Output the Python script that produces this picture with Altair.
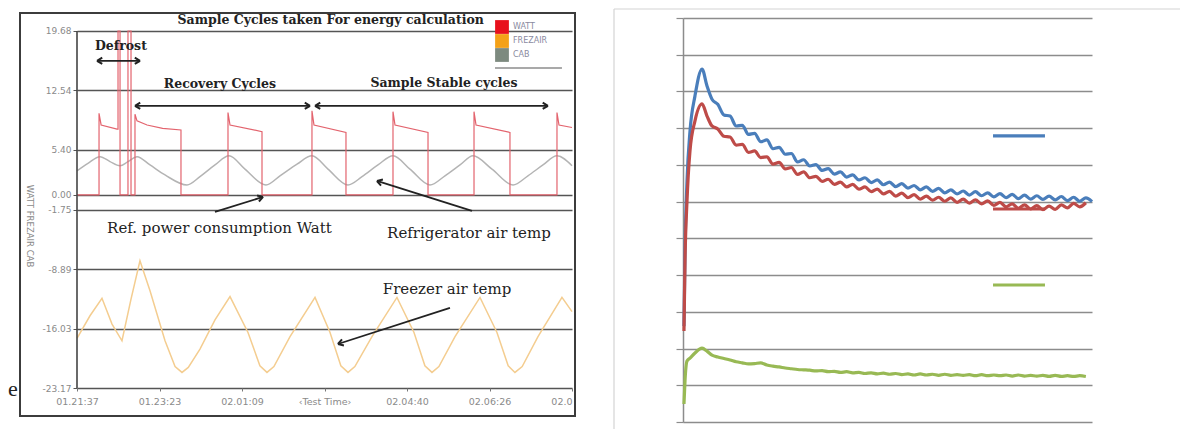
import altair as alt
import pandas as pd

# ================= LEFT PANEL DATA =================
x_ticks = [0, 106, 212, 318, 424, 530, 636]
x_tick_labels = ["01.21:37", "01.23:23", "02.01:09", "\u2039Test Time\u203a", "02.04:40", "02.06:26", "02.0"]
y_ticks = [19.68, 12.54, 5.40, 0.00, -1.75, -8.89, -16.03, -23.17]

series_names = ["WATT", "FREZAIR", "CAB"]

watt_t = [0, 28.3, 28.3, 31.0, 51.4, 52.7, 52.7, 55.3, 55.3, 65.5, 65.5, 69.4, 69.4, 74.5, 74.5, 77.1,
          90.0, 110.0, 133.6, 133.6, 194.0, 194.0, 196.6, 237.7, 237.7, 301.9, 301.9, 304.5, 345.6,
          345.6, 406.0, 406.0, 408.6, 451.0, 451.0, 510.1, 510.1, 512.7, 556.3, 556.3, 616.7, 616.7,
          619.3, 636.0]
watt_v = [0, 0, 9.8, 8.4, 7.9, 7.9, 19.68, 19.68, 0, 0, 19.68, 19.68, 0, 0, 9.7, 8.9,
          8.4, 8.0, 7.8, 0, 0, 9.9, 8.4, 7.6, 0, 0, 10.1, 8.4, 7.5,
          0, 0, 10.0, 8.4, 7.5, 0, 0, 10.0, 8.4, 7.5, 0, 0, 9.9,
          8.4, 8.1]

cab_t = [0, 14.1, 29.6, 42.4, 55.2, 65.5, 77.1, 93.8, 113.1, 141.3, 158.0, 177.3, 195.3, 215.8,
         242.8, 260.8, 282.7, 301.9, 322.5, 348.2, 366.2, 386.7, 406.0, 427.8, 453.5, 472.8, 492.1,
         508.8, 533.2, 560.2, 579.4, 598.7, 616.7, 636.0]
cab_v = [2.9, 3.8, 4.6, 4.0, 3.5, 4.0, 4.6, 3.6, 2.4, 1.2, 2.2, 3.6, 4.7, 3.1,
         1.2, 2.3, 3.7, 4.7, 3.1, 1.2, 2.2, 3.6, 4.7, 3.1, 1.2, 2.3, 3.6,
         4.7, 3.1, 1.2, 2.3, 3.6, 4.7, 3.5]

frez_t = [0, 16.7, 32.1, 45.0, 57.8, 69.4, 80.9, 93.8, 113.1, 126.0, 134.9, 143.0, 158.0, 177.3,
          196.6, 219.7, 235.0, 244.1, 253.0, 273.7, 305.8, 325.1, 339.0, 348.2, 357.0, 379.0, 411.1,
          433.0, 447.0, 456.1, 465.0, 485.7, 517.8, 539.6, 554.0, 562.7, 572.0, 592.3, 623.1, 636.0]
frez_v = [-17.2, -14.5, -12.4, -15.5, -17.5, -12.5, -7.9, -11.5, -17.5, -20.6, -21.3, -20.7, -18.5, -15.0,
          -12.2, -16.5, -20.5, -21.3, -20.6, -17.0, -12.3, -16.5, -20.5, -21.3, -20.6, -17.0, -12.3,
          -16.5, -20.5, -21.3, -20.6, -17.0, -12.3, -16.5, -20.5, -21.3, -20.6, -17.0, -12.3, -14.0]

# ================= RIGHT PANEL DATA =================
r_x = [0.24, 0.49, 0.98, 1.71, 2.93, 4.65, 5.87, 7.09,
       8.5, 10, 11.5, 13, 14.5, 16, 17.5, 19, 20.5, 22, 23.5, 25, 26.5, 28, 29.5, 31, 32.5, 34,
       35.5, 37, 38.5, 40, 41.5, 43, 44.5, 46, 47.5, 49, 50.5, 52, 53.5, 55, 56.5, 58, 59.5, 61,
       62.5, 64, 65.5, 67, 68.5, 70, 71.5, 73, 74.5, 76, 77.5, 79, 80.5, 82, 83.5, 85, 86.5, 88,
       89.5, 91, 92.5, 94, 95.5, 97, 98.5, 100]
blue_y = [2.61, 4.66, 6.56, 7.92, 8.88, 9.61, 9.15, 8.79,
          8.65, 8.36, 8.33, 8.06, 8.08, 7.83, 7.86, 7.63, 7.68, 7.44, 7.48, 7.29, 7.31, 7.08, 7.14,
          6.97, 7.01, 6.85, 6.90, 6.75, 6.81, 6.67, 6.73, 6.59, 6.65, 6.52, 6.59, 6.46, 6.53, 6.41,
          6.49, 6.37, 6.44, 6.32, 6.40, 6.28, 6.36, 6.24, 6.32, 6.21, 6.29, 6.18, 6.27, 6.16, 6.24,
          6.13, 6.22, 6.11, 6.20, 6.08, 6.18, 6.07, 6.16, 6.06, 6.15, 6.05, 6.14, 6.03, 6.12, 6.01,
          6.10, 6.00]
red_y = [2.48, 4.38, 6.02, 7.38, 8.20, 8.66, 8.33, 8.06,
         7.98, 7.78, 7.76, 7.54, 7.56, 7.34, 7.38, 7.20, 7.22, 7.02, 7.07, 6.89, 6.93, 6.74, 6.81,
         6.65, 6.69, 6.55, 6.61, 6.47, 6.53, 6.40, 6.47, 6.34, 6.40, 6.27, 6.34, 6.21, 6.28, 6.15,
         6.23, 6.11, 6.19, 6.07, 6.15, 6.04, 6.12, 6.01, 6.10, 5.98, 6.07, 5.96, 6.05, 5.94, 6.02,
         5.90, 5.98, 5.86, 5.94, 5.82, 5.91, 5.80, 5.89, 5.78, 5.88, 5.79, 5.91, 5.83, 5.95, 5.86,
         5.97]
green_y = [0.49, 1.12, 1.66, 1.74, 1.88, 2.01, 1.93, 1.82,
           1.77, 1.73, 1.69, 1.64, 1.61, 1.58, 1.59, 1.61, 1.55, 1.52, 1.50, 1.47, 1.45, 1.43, 1.42,
           1.41, 1.39, 1.40, 1.37, 1.38, 1.35, 1.37, 1.34, 1.35, 1.32, 1.34, 1.31, 1.33, 1.30, 1.32,
           1.29, 1.31, 1.28, 1.31, 1.28, 1.30, 1.27, 1.30, 1.27, 1.29, 1.27, 1.29, 1.26, 1.29, 1.26,
           1.28, 1.26, 1.28, 1.25, 1.28, 1.25, 1.27, 1.25, 1.27, 1.24, 1.27, 1.24, 1.26, 1.24, 1.26,
           1.24]
r_grid = list(range(12))

# ================= ANNOTATIONS (left panel, data coordinates) =================
title_text = "Sample Cycles taken For energy calculation"
bold_text = ["Defrost", "Recovery Cycles", "Sample Stable cycles"]
bold_t = [56.5, 183.7, 471.5]
bold_v = [17.9, 13.3, 13.4]
reg_text = ["Ref. power  consumption Watt", "Refrigerator  air temp", "Freezer air temp"]
reg_t = [183.0, 503.6, 475.4]
reg_v = [-3.96, -4.56, -11.28]
# arrows: tail -> head
arr_t1 = [25.7, 74.5, 305.8, 177.3, 507.5, 479.2]
arr_v1 = [16.1, 10.7, 10.7, -2.04, -1.92, -13.56]
arr_t2 = [81.0, 299.4, 605.1, 239.0, 385.4, 335.3]
arr_v2 = [16.1, 10.7, 10.7, -0.24, 1.68, -17.89]
head_t = [25.7, 81.0, 74.5, 299.4, 305.8, 605.1, 239.0, 385.4, 335.3]
head_v = [16.1, 16.1, 10.7, 10.7, 10.7, 10.7, -0.24, 1.68, -17.89]
head_a = [180, 0, 180, 0, 180, 0, 342.6, 197.5, 162.2]

# ================= BUILD LEFT CHART =================
SERIF = "DejaVu Serif"
SANS = "DejaVu Sans"

lx = alt.Scale(domain=[0, 636], nice=False, zero=False)
ly = alt.Scale(domain=[-23.17, 21.24], nice=False, zero=False)

label_expr = " : ".join(f"datum.value == {v} ? '{l}'" for v, l in zip(x_ticks, x_tick_labels)) + " : ''"

LX = alt.X("t:Q", scale=lx, title=None,
           axis=alt.Axis(values=x_ticks, labelExpr=label_expr, grid=False, domain=False,
                         tickSize=3, tickColor="#777", labelFont=SANS, labelFontSize=9.5,
                         labelColor="#8a8a8a", labelPadding=5,
                         labelAlign=alt.ExprRef(expr="datum.value == 636 ? 'right' : 'center'")))
LY = alt.Y("v:Q", scale=ly, title=None,
           axis=alt.Axis(values=y_ticks, labelExpr="replace(format(datum.value, '.2f'), '\u2212', '-')",
                         grid=True, gridColor="#555555", gridWidth=1.6, domain=False,
                         tickSize=4, tickColor="#555", labelFont=SANS, labelFontSize=9,
                         labelColor="#8a8a8a", labelPadding=2))

watt_df = pd.DataFrame({"t": watt_t, "v": watt_v, "i": range(len(watt_t))})
cab_df = pd.DataFrame({"t": cab_t, "v": cab_v})
frez_df = pd.DataFrame({"t": frez_t, "v": frez_v})

one = pd.DataFrame({"a": [0]})

frame_left = alt.Chart(one).mark_rect(fillOpacity=0, stroke="#3c3c3c", strokeWidth=2).encode(
    x=alt.value(-57), x2=alt.value(498), y=alt.value(-5), y2=alt.value(398))

yaxis_line = alt.Chart(pd.DataFrame({"t": [0], "v": [-23.17], "v2": [19.68]})).mark_rule(
    color="#444", strokeWidth=1.6).encode(x=LX, y=LY, y2="v2:Q")

frez_line = alt.Chart(frez_df).mark_line(color="#f4cd90", strokeWidth=1.5).encode(x=LX, y=LY)
cab_line = alt.Chart(cab_df).mark_line(color="#b4b4b4", strokeWidth=1.5, interpolate="monotone").encode(x=LX, y=LY)
watt_line = alt.Chart(watt_df).mark_line(color="#e3646e", strokeWidth=1.2).encode(x=LX, y=LY, order="i:Q")

legend_df = pd.DataFrame({"t": [300, 300, 300], "v": [0, 0, 0], "series": series_names})
legend_layer = alt.Chart(legend_df).mark_point(shape="square", filled=True, size=10, opacity=0).encode(
    x=LX, y=LY,
    color=alt.Color("series:N", sort=series_names,
                    scale=alt.Scale(domain=series_names, range=["#e8101c", "#f4a118", "#7d8a7f"]),
                    legend=alt.Legend(title=None, orient="none", legendX=418, legendY=2,
                                      symbolType="square", symbolSize=190, symbolOpacity=1,
                                      symbolStrokeWidth=0, labelFont=SANS, labelFontSize=8,
                                      labelColor="#8a8aa0", rowPadding=0, padding=0, labelOffset=4)))

leg_rule = alt.Chart(pd.DataFrame({"t": [537.0], "t2": [623.1], "v": [15.24]})).mark_rule(
    color="#555", strokeWidth=1.2).encode(x=LX, x2="t2:Q", y=LY)

title_layer = alt.Chart(pd.DataFrame({"t": [326.0], "v": [21.0], "text": [title_text]})).mark_text(
    font=SERIF, fontWeight="bold", fontSize=12.5, color="#222").encode(x=LX, y=LY, text="text:N")

bold_layer = alt.Chart(pd.DataFrame({"t": bold_t, "v": bold_v, "text": bold_text})).mark_text(
    font=SERIF, fontWeight="bold", fontSize=12.5, color="#222").encode(x=LX, y=LY, text="text:N")

reg_layer = alt.Chart(pd.DataFrame({"t": reg_t, "v": reg_v, "text": reg_text})).mark_text(
    font=SERIF, fontSize=15, color="#222").encode(x=LX, y=LY, text="text:N")

arrow_lines = alt.Chart(pd.DataFrame({"t": arr_t1, "v": arr_v1, "t2": arr_t2, "v2": arr_v2})).mark_rule(
    color="#222", strokeWidth=1.8).encode(x=LX, y=LY, x2="t2:Q", y2="v2:Q")

arrow_heads = alt.Chart(pd.DataFrame({"t": head_t, "v": head_v, "a": head_a})).mark_point(
    shape="M0,0L-1,-0.6M0,0L-1,0.6", size=110, filled=False, color="#222", strokeWidth=2,
    opacity=1).encode(x=LX, y=LY, angle=alt.Angle("a:Q", scale=None))

ytitle = alt.Chart(pd.DataFrame({"t": [-60.4], "v": [-3.72], "text": ["WATT FREZAIR CAB"]})).mark_text(
    font=SANS, fontSize=8.5, color="#8a8a8a", angle=90).encode(x=LX, y=LY, text="text:N")

e_layer = alt.Chart(pd.DataFrame({"t": [-88.65], "v": [-23.29], "text": ["e"]})).mark_text(
    font="Liberation Serif", fontSize=22, color="#222", align="left").encode(x=LX, y=LY, text="text:N")

left = alt.layer(
    frame_left, frez_line, cab_line, watt_line, yaxis_line, legend_layer, leg_rule,
    title_layer, bold_layer, reg_layer, arrow_lines, arrow_heads, ytitle, e_layer
).properties(width=495, height=370)

# ================= BUILD RIGHT CHART =================
rx = alt.Scale(domain=[0, 100], nice=False, zero=False)
ry = alt.Scale(domain=[0, 11], nice=False, zero=False)
RX = alt.X("x:Q", scale=rx, axis=None)
RY = alt.Y("y:Q", scale=ry, title=None,
           axis=alt.Axis(values=r_grid, labels=False, grid=True, gridColor="#8c8c8c", gridWidth=1.5,
                         tickSize=7, tickColor="#8c8c8c", tickWidth=1.2, domainColor="#8c8c8c",
                         domainWidth=1.5))

blue_df = pd.DataFrame({"x": r_x[:len(blue_y)], "y": blue_y})
red_df = pd.DataFrame({"x": r_x[:len(red_y)], "y": red_y})
green_df = pd.DataFrame({"x": r_x[:len(green_y)], "y": green_y})

frame_r_top = alt.Chart(one).mark_rule(color="#d4d4d4", strokeWidth=1.2).encode(
    x=alt.value(-69), x2=alt.value(497), y=alt.value(-9))
frame_r_left = alt.Chart(one).mark_rule(color="#d4d4d4", strokeWidth=1.2).encode(
    x=alt.value(-69), y=alt.value(-9), y2=alt.value(411))

blue_line = alt.Chart(blue_df).mark_line(color="#4a7ebb", strokeWidth=3.2, interpolate="monotone").encode(x=RX, y=RY)
red_line = alt.Chart(red_df).mark_line(color="#be4b48", strokeWidth=3.2, interpolate="monotone").encode(x=RX, y=RY)
green_line = alt.Chart(green_df).mark_line(color="#98b954", strokeWidth=3.2, interpolate="monotone").encode(x=RX, y=RY)

rleg = alt.Chart(pd.DataFrame({"x": [75.8, 75.8, 75.8], "x2": [88.5, 88.5, 88.5], "y": [7.79, 5.80, 3.73],
                               "c": ["#4a7ebb", "#be4b48", "#98b954"]})).mark_rule(strokeWidth=3.2).encode(
    x=RX, x2="x2:Q", y=RY, color=alt.Color("c:N", scale=None))

right = alt.layer(frame_r_top, frame_r_left, blue_line, red_line, green_line, rleg).properties(
    width=409, height=404)

chart = alt.hconcat(left, right, spacing=111, bounds="flush").properties(padding=0).configure_view(
    stroke=None)

chart.save("out.html", embed_options={"renderer": "svg", "actions": False})
